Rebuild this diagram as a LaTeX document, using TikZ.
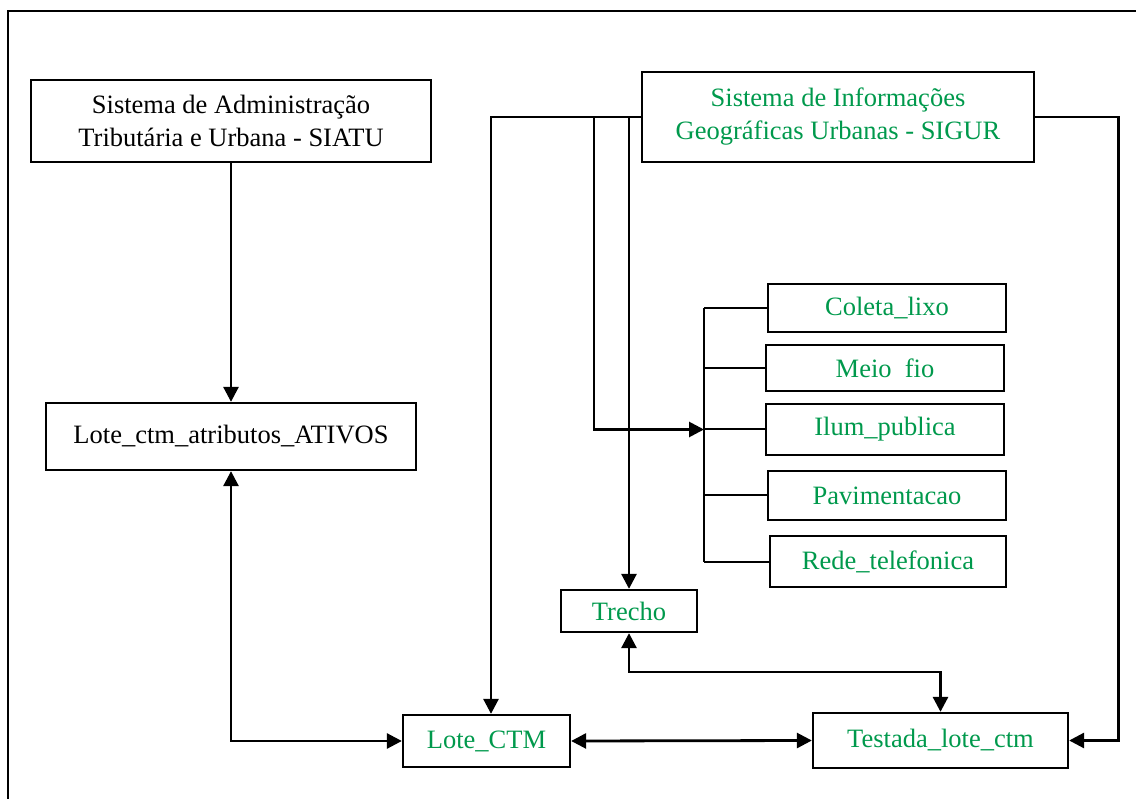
\documentclass[tikz,border=0pt]{standalone}
\usepackage{fontspec}
\setmainfont{Liberation Serif}
\usetikzlibrary{arrows.meta}
\definecolor{sgreen}{RGB}{0,153,76}
\tikzset{
  box/.style={draw, line width=2.3pt, inner sep=0pt, align=center,
    font=\fontsize{26.5}{33}\selectfont},
  gbox/.style={box, text=sgreen},
  conn/.style={line width=2.8pt},
  arr/.style={conn, -{Triangle[length=15pt,width=15pt]}},
  darr/.style={conn, {Triangle[length=15pt,width=15pt]}-{Triangle[length=15pt,width=15pt]}},
  tick/.style={line width=2pt}
}
\begin{document}
\begin{tikzpicture}[x=1pt,y=-1pt]
\useasboundingbox (0,0) rectangle (1136,799);
% frame
\draw[line width=2.5pt] (8,799) -- (8,11) -- (1136,11);
% nodes
\node[box, minimum width=400pt, minimum height=82pt] (siatu) at (231,121)
  {Sistema de Administração\\Tributária e Urbana - SIATU};
\node[gbox, minimum width=392pt, minimum height=90pt] (sigur) at (838,117)
  {Sistema de Informações\\Geográficas Urbanas - SIGUR};
\node[box, minimum width=370pt, minimum height=67pt] (attr) at (231,436.5)
  {Lote\_ctm\_atributos\_ATIVOS};
\node[gbox, minimum width=167pt, minimum height=52pt] (lote) at (486.5,741)
  {Lote\_CTM};
\node[gbox, minimum width=255pt, minimum height=55pt] (testada) at (940.5,740.5)
  {Testada\_lote\_ctm};
\node[gbox, minimum width=136pt, minimum height=42pt] (trecho) at (629,611)
  {Trecho};
\node[gbox, minimum width=238pt, minimum height=48pt] (coleta) at (887,308)
  {Coleta\_lixo};
\node[gbox, minimum width=238pt, minimum height=46pt] (meio) at (885,368)
  {Meio~~fio};
\node[gbox, minimum width=238pt, minimum height=51pt] (ilum) at (885,429.5)
  {Ilum\_publica};
\node[gbox, minimum width=238pt, minimum height=49pt] (pav) at (887,495.5)
  {Pavimentacao};
\node[gbox, minimum width=236pt, minimum height=51pt] (rede) at (888,561.5)
  {Rede\_telefonica};
% helper coordinates
\coordinate (bx) at (704,0);
\coordinate (ja) at (594,117);
\coordinate (jl) at (491,117);
\coordinate (jt) at (629,672);
% bracket
\draw[tick] (coleta.west -| bx) -- (rede.west -| bx);
\draw[tick] (coleta.west) -- (coleta.west -| bx);
\draw[tick] (meio.west) -- (meio.west -| bx);
\draw[tick] (ilum.west) -- (ilum.west -| bx);
\draw[tick] (pav.west) -- (pav.west -| bx);
\draw[tick] (rede.west) -- (rede.west -| bx);
% connectors
\draw[arr] (siatu) -- (attr);
\draw[darr] (attr.south) |- (lote.west);
\draw[darr] (lote.east) -- (testada.west);
\draw[darr] (trecho.south) -- (jt) -| (testada.north);
\draw[arr] (sigur.west) -- (jl) -- (jl |- lote.north);
\draw[arr] (ja) |- (ilum.west -| bx);
\draw[arr] (sigur.west -| trecho.north) -- (trecho.north);
\draw[arr] (sigur.east) -- ++(83,0) |- (testada.east);
\end{tikzpicture}
\end{document}
